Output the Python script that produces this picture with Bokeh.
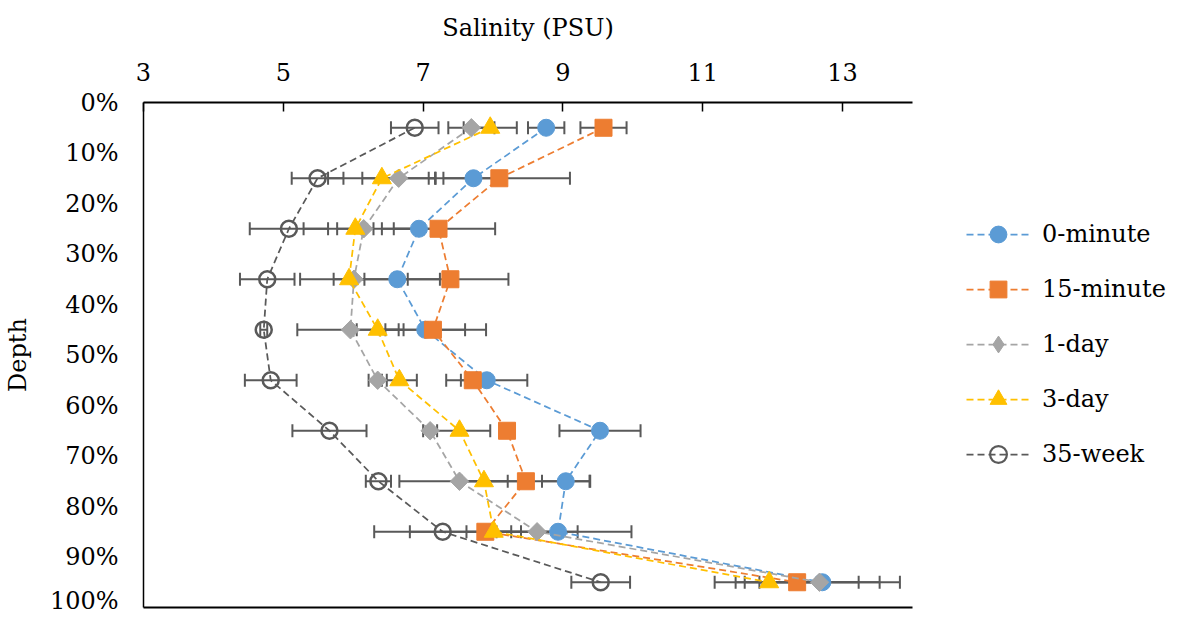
import math
from bokeh.plotting import figure
from bokeh.layouts import row
from bokeh.models import (Range1d, FixedTicker, NumeralTickFormatter, Whisker, TeeHead,
                          ColumnDataSource, Legend, LegendItem, LinearAxis)
from bokeh.embed import file_html
from bokeh.resources import INLINE

# ---------------- data ----------------
depth = [0.05, 0.15, 0.25, 0.35, 0.45, 0.55, 0.65, 0.75, 0.85, 0.95]
series_names = ["0-minute", "15-minute", "1-day", "3-day", "35-week"]
m0 = [8.76, 7.72, 6.94, 6.63, 7.03, 7.91, 9.53, 9.04, 8.93, 12.71]
m0_err = [0.26, 0.43, 0.36, 0.61, 0.57, 0.58, 0.58, 0.34, 1.05, 1.11]
m15 = [9.58, 8.09, 7.22, 7.39, 7.14, 7.71, 8.20, 8.47, 7.89, 12.35]
m15_err = [0.33, 1.01, 0.81, 0.83, 0.76, 0.17, 0.10, 0.92, 1.08, 0.88]
d1 = [7.69, 6.65, 6.15, 6.01, 5.96, 6.35, 7.10, 7.52, 8.63, 12.67]
d1_err = [0.33, 0.52, 0.86, 0.77, 0.76, 0.13, 0.10, 0.86, 0.58, 0.86]
d3 = [7.96, 6.41, 6.03, 5.94, 6.35, 6.66, 7.52, 7.87, 8.01, 11.95]
d3_err = [0.38, 0.77, 0.26, 0.22, 0.30, 0.25, 0.44, 0.34, 0.39, 0.78]
w35 = [6.88, 5.49, 5.08, 4.77, 4.72, 4.82, 5.66, 6.36, 7.28, 9.54]
w35_err = [0.34, 0.37, 0.56, 0.39, 0.05, 0.37, 0.53, 0.18, 0.98, 0.42]
x_ticks = [3, 5, 7, 9, 11, 13]
y_ticks = [0.0, 0.1, 0.2, 0.3, 0.4, 0.5, 0.6, 0.7, 0.8, 0.9, 1.0]

FONT = "DejaVu Serif"
FS = "24px"

p = figure(width=920, height=614, x_range=Range1d(3, 14), y_range=Range1d(1.0, 0.0),
           x_axis_location="above", output_backend="svg", toolbar_location=None,
           min_border_left=141, min_border_right=8, min_border_top=102, min_border_bottom=7)
p.outline_line_color = None
p.xgrid.visible = False
p.ygrid.visible = False
p.background_fill_color = "white"
p.border_fill_color = "white"

xa = p.xaxis[0]
xa.ticker = FixedTicker(ticks=x_ticks)
xa.axis_label = "Salinity (PSU)"
xa.axis_label_text_font = FONT
xa.axis_label_text_font_size = FS
xa.axis_label_text_font_style = "normal"
xa.axis_label_text_color = "black"
xa.axis_label_standoff = 18
xa.major_label_text_font = FONT
xa.major_label_text_font_size = FS
xa.major_label_text_color = "black"
xa.major_label_standoff = 22
xa.major_tick_in = 9
xa.major_tick_out = 0
xa.major_tick_line_color = "black"
xa.major_tick_line_width = 1.5
xa.minor_tick_line_color = None
xa.axis_line_color = "black"
xa.axis_line_width = 2

ya = p.yaxis[0]
ya.ticker = FixedTicker(ticks=y_ticks)
ya.formatter = NumeralTickFormatter(format="0%")
ya.axis_label = "Depth"
ya.axis_label_text_font = FONT
ya.axis_label_text_font_size = FS
ya.axis_label_text_font_style = "normal"
ya.axis_label_text_color = "black"
ya.axis_label_standoff = 15
ya.major_label_text_font = FONT
ya.major_label_text_font_size = FS
ya.major_label_text_color = "black"
ya.major_label_standoff = 25
ya.major_tick_in = 0
ya.major_tick_out = 0
ya.minor_tick_line_color = None
ya.axis_line_color = "black"
ya.axis_line_width = 1.5

bottom = LinearAxis(ticker=FixedTicker(ticks=[]), axis_line_color="black", axis_line_width=2,
                    major_tick_in=0, major_tick_out=0, minor_tick_line_color=None,
                    major_label_standoff=0)
p.add_layout(bottom, "below")

colors = ["#5B9BD5", "#ED7D31", "#A5A5A5", "#FFC000", "#595959"]
values = [m0, m15, d1, d3, w35]
errors = [m0_err, m15_err, d1_err, d3_err, w35_err]
markers = ["circle", "square", "square", "triangle", "circle"]
legend_markers = ["circle", "square", "diamond", "triangle", "circle"]
angles = [0, 0, math.pi / 4, 0, 0]
sizes = [17, 17, 13, 19, 16]

# legend panel as a separate figure to the right of the chart; its ranges keep
# the stand-in renderers out of view so only the legend shows
pl = figure(width=246, height=614, x_range=Range1d(100, 101), y_range=Range1d(100, 101),
            x_axis_location=None, y_axis_location=None, output_backend="svg",
            toolbar_location=None, min_border=0)
pl.outline_line_color = None
pl.xgrid.visible = False
pl.ygrid.visible = False

items = []
for name, vals, errs, col, mk, lmk, sz, ang in zip(series_names, values, errors, colors,
                                                   markers, legend_markers, sizes, angles):
    src = ColumnDataSource(dict(x=vals, y=depth,
                                lo=[v - e for v, e in zip(vals, errs)],
                                hi=[v + e for v, e in zip(vals, errs)]))
    w = Whisker(source=src, base="y", lower="lo", upper="hi", dimension="width",
                line_color="#595959", line_width=2, level="underlay",
                lower_head=TeeHead(size=13, line_color="#595959", line_width=2),
                upper_head=TeeHead(size=13, line_color="#595959", line_width=2))
    p.add_layout(w)
    p.line("x", "y", source=src, line_color=col, line_width=1.75, line_dash="7 4")
    is_open = name == "35-week"
    p.scatter("x", "y", source=src, marker=mk, size=sz, angle=ang,
              fill_color=None if is_open else col, line_color=col,
              line_width=2.5 if is_open else 1)
    # legend stand-ins (same data, outside the legend panel's view)
    ln = pl.line("x", "y", source=src, line_color=col, line_width=1.75, line_dash="7 4")
    sc = pl.scatter("x", "y", source=src, marker=lmk, size=sz,
                    fill_color=None if is_open else col, line_color=col,
                    line_width=2.2 if is_open else 1)
    items.append(LegendItem(label=name, renderers=[ln, sc]))

legend = Legend(items=items, location=(46, 132), orientation="vertical",
                label_text_font=FONT, label_text_font_size=FS, label_text_color="black",
                glyph_width=64, glyph_height=42, label_height=24, label_standoff=12,
                spacing=13, padding=0, margin=0, border_line_color=None,
                background_fill_alpha=0)
pl.add_layout(legend, "center")

layout = row(p, pl, spacing=0)
open("out.html", "w").write(file_html(layout, INLINE))
